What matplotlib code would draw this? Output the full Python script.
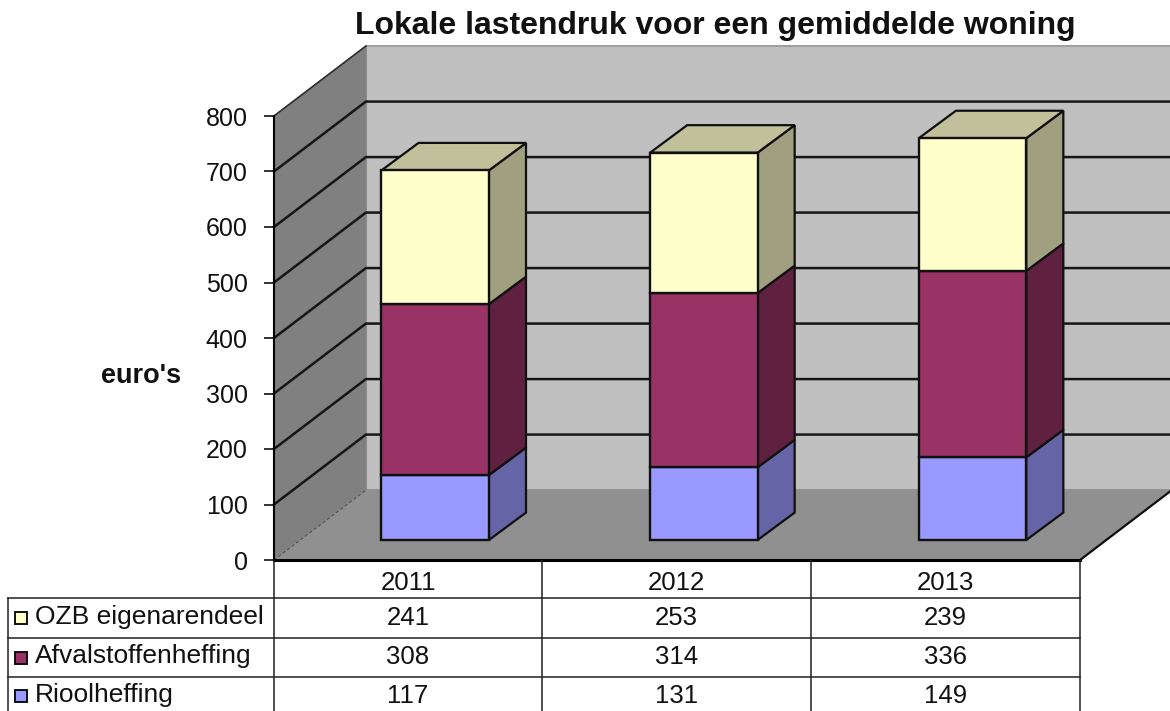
import matplotlib
matplotlib.use('Agg')
from matplotlib import pyplot as plt
from matplotlib.patches import Polygon, Rectangle

plt.rcParams['font.family'] = ['Liberation Sans', 'DejaVu Sans']

jaren = ['2011', '2012', '2013']
riool = [117, 131, 149]
afval = [308, 314, 336]
ozb = [241, 253, 239]
namen = ['OZB eigenarendeel', 'Afvalstoffenheffing', 'Rioolheffing']
yticks = [0, 100, 200, 300, 400, 500, 600, 700, 800]

kleur_voor = ['#9999FF', '#993366', '#FFFFCC']
kleur_zij = ['#6464A6', '#602040', '#A0A080']
kleur_top = '#C0C09A'

W, H = 1170, 711
fig = plt.figure(figsize=(W / 100, H / 100), dpi=100)
ax = fig.add_axes([274 / W, (H - 560) / H, 806 / W, 444 / H])
ax.set_xlim(-0.5, 2.5)
ax.set_ylim(0, 800)
ax.patch.set_visible(False)

# diepte van de 3d-doos en van de balken, in as-eenheden
wand_dx, wand_dy = 0.342, 126
balk_dx, balk_dy = 0.138, 49.5
balk_ox, balk_oy = 0.1, 36
balk_b = 0.2


def vlak(punten, kleur, rand='#808080', lw=1.0, z=1):
    ax.add_patch(Polygon(punten, closed=True, facecolor=kleur, edgecolor=rand,
                         linewidth=lw, clip_on=False, zorder=z))


# wanden en vloer
links, rechts = -0.5, 2.5
vlak([(links + wand_dx, wand_dy), (rechts + wand_dx, wand_dy),
      (rechts + wand_dx, 800 + wand_dy), (links + wand_dx, 800 + wand_dy)], '#C0C0C0', '#A0A0A0', 1.5)
vlak([(links, 0), (links + wand_dx, wand_dy), (links + wand_dx, 800 + wand_dy), (links, 800)],
     '#808080', '#808080', 1)
vlak([(links, 0), (rechts, 0), (rechts + wand_dx, wand_dy), (links + wand_dx, wand_dy)],
     '#909090', '#909090', 1, 1.5)
ax.plot([links, links + wand_dx], [800, 800 + wand_dy], color='#303030', lw=1.2, clip_on=False, zorder=2)
ax.plot([links, links + wand_dx], [0, wand_dy], color='#505050', lw=0.8, ls=(0, (3, 2)), clip_on=False, zorder=2)
ax.plot([rechts, rechts + wand_dx], [0, wand_dy], color='#101010', lw=1.6, clip_on=False, zorder=2)

# rasterlijnen over linkerwand en achterwand
for t in yticks[1:-1]:
    ax.plot([links, links + wand_dx, rechts + wand_dx], [t, t + wand_dy, t + wand_dy],
            color='#161616', lw=1.8, clip_on=False, zorder=1.2)

# gestapelde balken
for i in range(len(jaren)):
    x0 = i + balk_ox - balk_b
    x1 = i + balk_ox + balk_b
    onder = balk_oy
    for j, reeks in enumerate([riool, afval, ozb]):
        boven = onder + reeks[i]
        ax.bar(x0, reeks[i], width=x1 - x0, bottom=onder, align='edge', color=kleur_voor[j],
               edgecolor='#101010', linewidth=1.7, clip_on=False, zorder=4)
        vlak([(x1, onder), (x1 + balk_dx, onder + balk_dy), (x1 + balk_dx, boven + balk_dy), (x1, boven)],
             kleur_zij[j], '#101010', 1.6, 3.5)
        onder = boven
    vlak([(x0, onder), (x1, onder), (x1 + balk_dx, onder + balk_dy), (x0 + balk_dx, onder + balk_dy)],
         kleur_top, '#101010', 1.6, 3.5)

# assen
for s in ['top', 'right']:
    ax.spines[s].set_visible(False)
ax.spines['left'].set_linewidth(1.5)
ax.spines['bottom'].set_linewidth(2.2)
ax.spines['left'].set_zorder(3)
ax.spines['bottom'].set_zorder(3)
ax.set_xticks([])
ax.set_yticks(yticks)
ax.tick_params(axis='y', labelsize=18, length=7, width=1.2, pad=12, colors='#111111')

# tabel onder de grafiek, in pixels
tab = fig.add_axes([0, 0, 1, 1])
tab.set_xlim(0, W)
tab.set_ylim(H, 0)
tab.axis('off')
tab.patch.set_visible(False)

kol = [274, 542, 811, 1080]
rij = [561, 598, 638, 677, 715]
lijn = dict(color='#202020', lw=1.1)
for k in kol:
    tab.plot([k, k], [rij[0], rij[-1]], **lijn)
for r in rij[1:4]:
    tab.plot([8, kol[-1]], [r, r], **lijn)
tab.plot([8, 8], [rij[1], rij[-1]], **lijn)

rijen = [ozb, afval, riool]
sleutel = [kleur_voor[2], kleur_voor[1], kleur_voor[0]]
for i, jaar in enumerate(jaren):
    tab.text((kol[i] + kol[i + 1]) / 2, 583, jaar, ha='center', va='center', fontsize=18.5, color='#111111')
for r, (naam, reeks) in enumerate(zip(namen, rijen)):
    ym = (rij[r + 1] + rij[r + 2]) / 2
    tab.add_patch(Rectangle((15, ym - 6), 12, 12, facecolor=sleutel[r], edgecolor='#101010', linewidth=1.4))
    tab.text(35, ym - 1, naam, ha='left', va='center', fontsize=19, color='#111111')
    for i, w in enumerate(reeks):
        tab.text((kol[i] + kol[i + 1]) / 2, ym, str(w), ha='center', va='center', fontsize=18.5, color='#111111')

tab.text(715, 26, 'Lokale lastendruk voor een gemiddelde woning', ha='center', va='center',
         fontsize=23, fontweight='bold', color='#111111')
tab.text(141, 376, "euro's", ha='center', va='center', fontsize=19.5, fontweight='bold', color='#111111')

fig.savefig('out.png', dpi=100)
